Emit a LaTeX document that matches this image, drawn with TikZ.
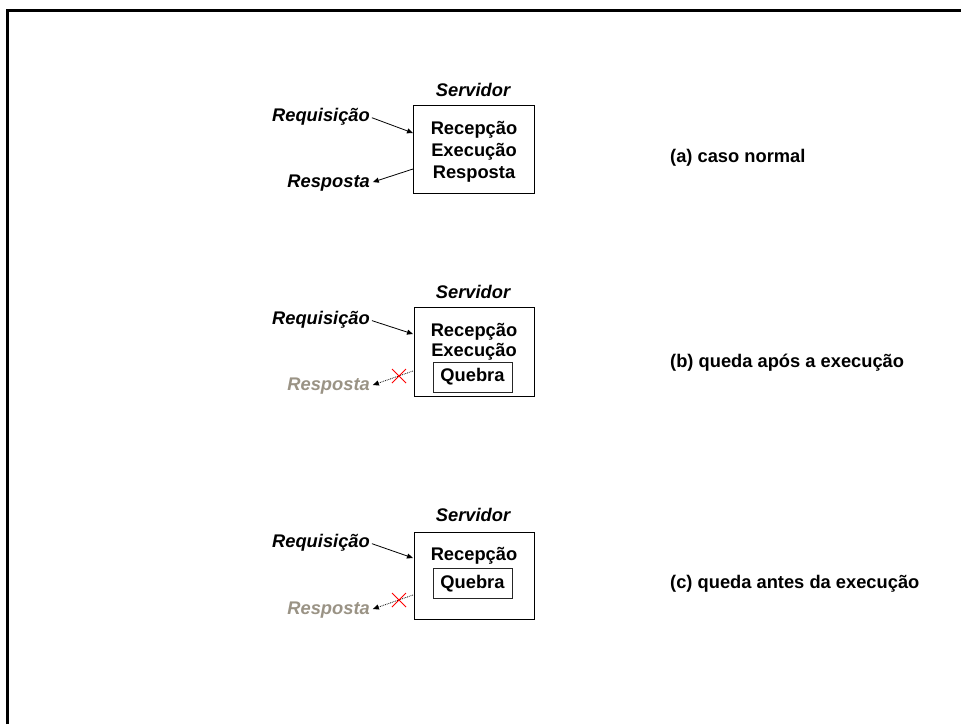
\documentclass[tikz,border=0pt]{standalone}
\usepackage{fontspec}
\setmainfont{Liberation Sans}
\usetikzlibrary{arrows.meta}
\definecolor{lost}{HTML}{9A9385}
\tikzset{
  txt/.style={font=\fontsize{18.3}{22}\selectfont\bfseries, inner sep=0pt},
  itxt/.style={txt, font=\fontsize{18.3}{22}\selectfont\bfseries\itshape},
  server/.style={draw, line width=1pt},
  crash/.style={draw=black!85, line width=0.9pt, minimum width=79pt, minimum height=30pt, inner sep=0pt,
    font=\fontsize{18.3}{22}\selectfont\bfseries},
  msg/.style={line width=0.8pt, -{Triangle[length=6pt,width=5pt]}},
  lostmsg/.style={msg, densely dotted},
  cross/.style={red, line width=0.8pt}
}
\begin{document}
\begin{tikzpicture}[x=1pt,y=-1pt]
\useasboundingbox (0,0) rectangle (961,724);
% page frame (top and left edges only)
\draw[line width=3pt] (7,724) -- (7,10) -- (961,10);

% ---------- (a) normal case ----------
\node[server, minimum width=121pt, minimum height=88pt, inner sep=0pt] (srvA) at (474,149) {};
\node[itxt] (titA) at (473,90) {Servidor};
\node[txt] (a1) at (474,130) {Recepção};
\node[txt] (a2) at (474,152) {Execução};
\node[txt] (a3) at (474,174) {Resposta};
\node[itxt, anchor=east] (reqA) at (370,117) {Requisição};
\node[itxt, anchor=east] (resA) at (370,183) {Resposta};
\coordinate (inA) at (413,133);
\coordinate (outA) at (413,169);
\draw[msg, shorten <=2pt] (reqA.east) -- (inA);
\draw[msg, shorten >=3pt] (outA) -- (resA.east);
\node[txt, anchor=west] (capA) at (670,158) {(a) caso normal};

% ---------- (b) crash after execution ----------
\node[server, minimum width=120pt, minimum height=89pt, inner sep=0pt] (srvB) at (474,351.5) {};
\node[itxt] (titB) at (473,292) {Servidor};
\node[txt] (b1) at (474,332) {Recepção};
\node[txt] (b2) at (474,352) {Execução};
\node[crash] (qB) at (472.5,377) {Quebra};
\node[itxt, anchor=east] (reqB) at (370,320) {Requisição};
\node[itxt, anchor=east, text=lost] (resB) at (370,386) {Resposta};
\coordinate (inB) at (413,334);
\coordinate (outB) at (413,371);
\draw[msg, shorten <=2pt] (reqB.east) -- (inB);
\draw[lostmsg, shorten >=3pt] (outB) -- (resB.east);
\coordinate (xB) at (399,376);
\draw[cross] ([shift={(-7,-7)}]xB) -- ([shift={(7,7)}]xB)
             ([shift={(-7,7)}]xB) -- ([shift={(7,-7)}]xB);
\node[txt, anchor=west] (capB) at (670,363) {(b) queda após a execução};

% ---------- (c) crash before execution ----------
\node[server, minimum width=120pt, minimum height=87pt, inner sep=0pt] (srvC) at (474,575.5) {};
\node[itxt] (titC) at (473,515) {Servidor};
\node[txt] (c1) at (474,556) {Recepção};
\node[crash] (qC) at (472.5,583.5) {Quebra};
\node[itxt, anchor=east] (reqC) at (370,543) {Requisição};
\node[itxt, anchor=east, text=lost] (resC) at (370,610) {Resposta};
\coordinate (inC) at (413,558);
\coordinate (outC) at (413,595);
\draw[msg, shorten <=2pt] (reqC.east) -- (inC);
\draw[lostmsg, shorten >=3pt] (outC) -- (resC.east);
\coordinate (xC) at (399,600);
\draw[cross] ([shift={(-7,-7)}]xC) -- ([shift={(7,7)}]xC)
             ([shift={(-7,7)}]xC) -- ([shift={(7,-7)}]xC);
\node[txt, anchor=west] (capC) at (670,584) {(c) queda antes da execução};
\end{tikzpicture}
\end{document}
